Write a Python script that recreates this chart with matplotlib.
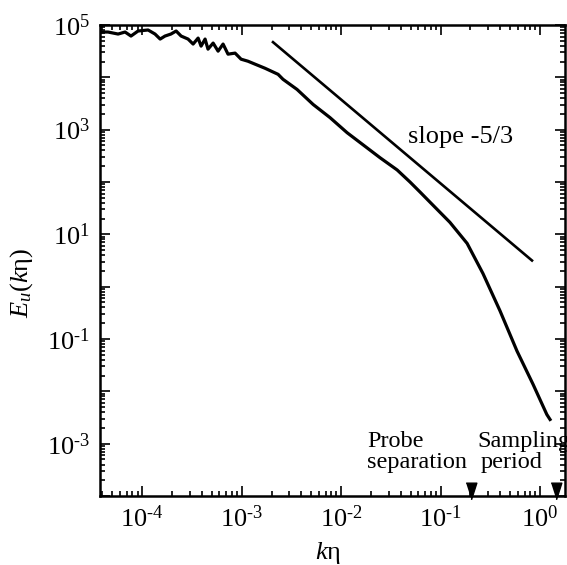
import numpy as np
import matplotlib
matplotlib.use("Agg")
import matplotlib.pyplot as plt
from matplotlib.ticker import FixedLocator, FuncFormatter, LogLocator, NullFormatter

plt.rcParams['font.family'] = ['Liberation Serif', 'DejaVu Serif']
plt.rcParams['mathtext.fontset'] = 'custom'
plt.rcParams['mathtext.rm'] = 'Liberation Serif'
plt.rcParams['mathtext.it'] = 'Liberation Serif:italic'

# spectrum
k_eta = [3.78e-5, 4.55e-5, 5.74e-5, 6.75e-5, 7.74e-5, 9.12e-5, 1.15e-4, 1.35e-4,
         1.52e-4, 1.70e-4, 1.95e-4, 2.20e-4, 2.47e-4, 2.90e-4, 3.26e-4, 3.66e-4,
         3.92e-4, 4.30e-4, 4.60e-4, 5.18e-4, 5.81e-4, 6.52e-4, 7.31e-4, 8.61e-4,
         9.89e-4, 1.16e-3, 1.37e-3, 1.72e-3, 2.33e-3, 2.61e-3, 3.61e-3, 5.24e-3,
         7.74e-3, 1.15e-2, 1.66e-2, 2.47e-2, 3.66e-2, 4.93e-2, 6.22e-2, 7.83e-2,
         0.124, 0.185, 0.267, 0.396, 0.587, 0.851, 1.17, 1.26]
E_u = [7.33e4, 7.33e4, 6.71e4, 7.33e4, 6.14e4, 7.67e4, 8.02e4, 6.71e4,
       5.38e4, 6.14e4, 6.71e4, 7.67e4, 6.14e4, 5.38e4, 4.32e4, 5.62e4,
       3.94e4, 5.38e4, 3.45e4, 4.51e4, 3.16e4, 4.32e4, 2.77e4, 2.90e4,
       2.22e4, 2.03e4, 1.78e4, 1.49e4, 1.14e4, 9.16e3, 5.87e3, 3.03e3,
       1.70e3, 875, 515, 290, 170, 100, 64.3, 41.2,
       17.0, 6.71, 1.78, 0.345, 0.0587, 0.0136, 3.61e-3, 2.90e-3]

# -5/3 reference line ends
slope_x = [2.07e-3, 0.83]
slope_y = [4.7e4, 3.16]

# arrow marks
probe_k = 0.203
sampling_k = 1.45


def pow_label(v, p, odd_only=False):
    e = int(round(np.log10(v)))
    if odd_only and e % 2 == 0:
        return ''
    if e < 0:
        return '$10^{\u2010%d}$' % abs(e)
    return '$10^{%d}$' % e


fig = plt.figure(figsize=(5.67, 5.65), dpi=100)
ax = fig.add_axes([0.1764, 0.1221, 0.82, 0.8337])

ax.plot(k_eta, E_u, color='black', lw=2.3)
ax.plot(slope_x, slope_y, color='black', lw=1.9)

ax.set_xscale('log')
ax.set_yscale('log')
ax.set_xlim(3.78e-5, 1.78)
ax.set_ylim(1e-4, 1e5)

ax.yaxis.set_major_locator(FixedLocator([10.0**e for e in range(-4, 6)]))
ax.yaxis.set_major_formatter(FuncFormatter(lambda v, p: pow_label(v, p, True)))
ax.yaxis.set_minor_locator(LogLocator(base=10, subs=np.arange(2, 10), numticks=20))
ax.yaxis.set_minor_formatter(NullFormatter())
ax.xaxis.set_major_locator(FixedLocator([10.0**e for e in range(-4, 1)]))
ax.xaxis.set_major_formatter(FuncFormatter(pow_label))
ax.xaxis.set_minor_locator(LogLocator(base=10, subs=np.arange(2, 10), numticks=20))
ax.xaxis.set_minor_formatter(NullFormatter())

ax.tick_params(which='both', direction='in', top=True, right=True, width=1.2)
ax.tick_params(which='major', length=7, labelsize=19)
ax.tick_params(which='minor', length=3.5)
ax.tick_params(axis='y', which='major', pad=7)
ax.tick_params(axis='x', which='major', pad=7)
for s in ax.spines.values():
    s.set_linewidth(1.8)

ax.set_xlabel(r'$k\mathrm{\eta}$', fontsize=19)
ax.set_ylabel(r'$E_u(k\mathrm{\eta})$', fontsize=19)
ax.xaxis.set_label_coords(0.49, -0.093)
ax.yaxis.set_label_coords(-0.14, 0.453)

ax.text(0.0471, 562, 'slope -5/3', fontsize=19, ha='left', va='baseline')
ax.text(0.0182, 8.6e-4, 'Probe', fontsize=17.5, ha='left', va='baseline', clip_on=False)
ax.text(0.0182, 3.4e-4, 'separation', fontsize=17.5, ha='left', va='baseline', clip_on=False)
ax.text(0.236, 8.6e-4, 'Sampling', fontsize=17.5, ha='left', va='baseline', clip_on=False)
ax.text(0.252, 3.4e-4, 'period', fontsize=17.5, ha='left', va='baseline', clip_on=False)
tri = [(-0.32, 0.5), (0.32, 0.5), (0, -0.5)]
ax.plot([probe_k, sampling_k], [1.25e-4, 1.25e-4], ls='none', marker=tri,
        markersize=12, color='black', clip_on=False)

fig.savefig('out.png', dpi=100)
